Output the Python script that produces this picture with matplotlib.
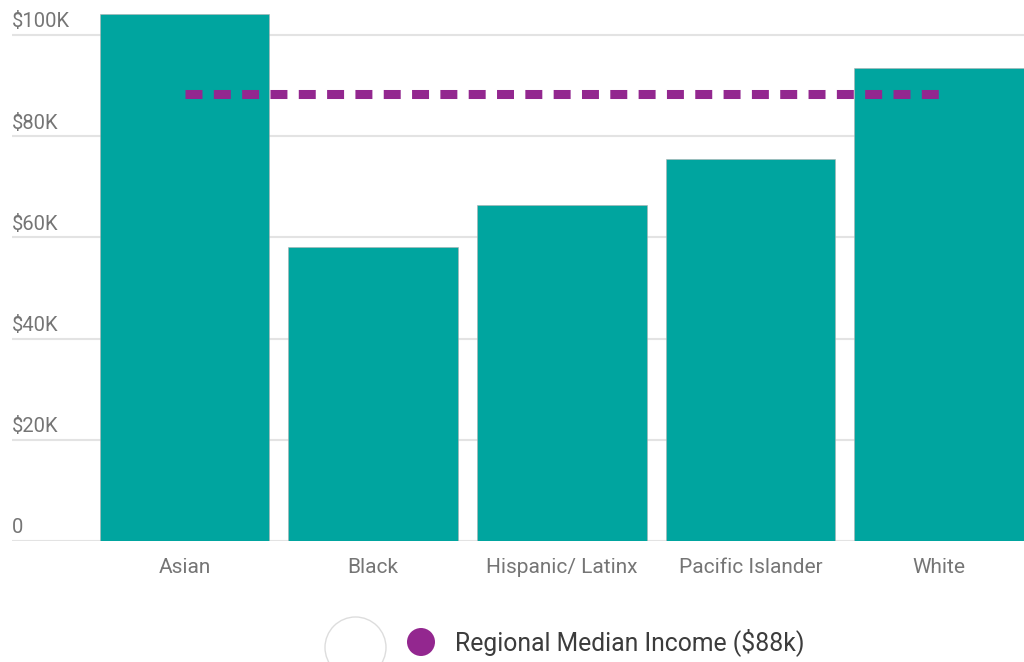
import matplotlib
matplotlib.use("Agg")
import matplotlib.pyplot as plt
from matplotlib.patches import Circle
from matplotlib.transforms import blended_transform_factory

# median household income by race/ethnicity
groups = ["Asian", "Black", "Hispanic/ Latinx", "Pacific Islander", "White"]
income = [104.2, 58.1, 66.4, 75.5, 93.5]  # thousands of dollars
regional_median = 88.3
yticks = [0, 20, 40, 60, 80, 100]
ytick_labels = ["0", "$20K", "$40K", "$60K", "$80K", "$100K"]

teal = "#00a59f"
purple = "#93278f"
grey_text = "#757575"

plt.rcParams["font.family"] = ["Roboto", "DejaVu Sans"]

fig = plt.figure(figsize=(10.24, 6.62), dpi=100)
ax = fig.add_axes([12 / 1024, 121 / 662, 1 - 12 / 1024, 541 / 662])

x = list(range(len(groups)))
ax.bar(x, income, width=0.9, color=teal, edgecolor="#b0b0b0", linewidth=0.4, zorder=2)
ax.plot([x[0], x[-1]], [regional_median, regional_median], color=purple,
        lw=6.5, dashes=(1.88, 1.257), solid_capstyle="butt", dash_capstyle="butt", zorder=3)

ax.set_xlim(-0.915, 4.45)
ax.set_ylim(0, 106.9)

for t in yticks:
    ax.axhline(t, color="#e3e3e3", lw=1.5, zorder=1)
ax.set_yticks([])

# y labels sit just above their gridlines, flush left
tr = blended_transform_factory(fig.transFigure, ax.transData)
for t, lab in zip(yticks, ytick_labels):
    ax.text(12 / 1024, t + 0.7, lab, transform=tr, ha="left", va="bottom",
            fontsize=14.5, color=grey_text)

ax.set_xticks(x)
ax.set_xticklabels(groups, fontsize=15, color=grey_text)
ax.tick_params(axis="x", length=0, pad=12)

for s in ax.spines.values():
    s.set_visible(False)

# legend drawn by hand below the axes
fig.add_artist(Circle((3.555, 0.145), 0.305, transform=fig.dpi_scale_trans,
                      facecolor="white", edgecolor="#dddddd", lw=1))
fig.add_artist(Circle((4.21, 0.20), 0.14, transform=fig.dpi_scale_trans,
                      facecolor=purple, edgecolor="none"))
fig.text(4.55 / 10.24, 0.20 / 6.62, "Regional Median Income ($88k)", ha="left",
         va="center", fontsize=17.8, color="#3c3c3c")

fig.savefig("out.png", dpi=100)
